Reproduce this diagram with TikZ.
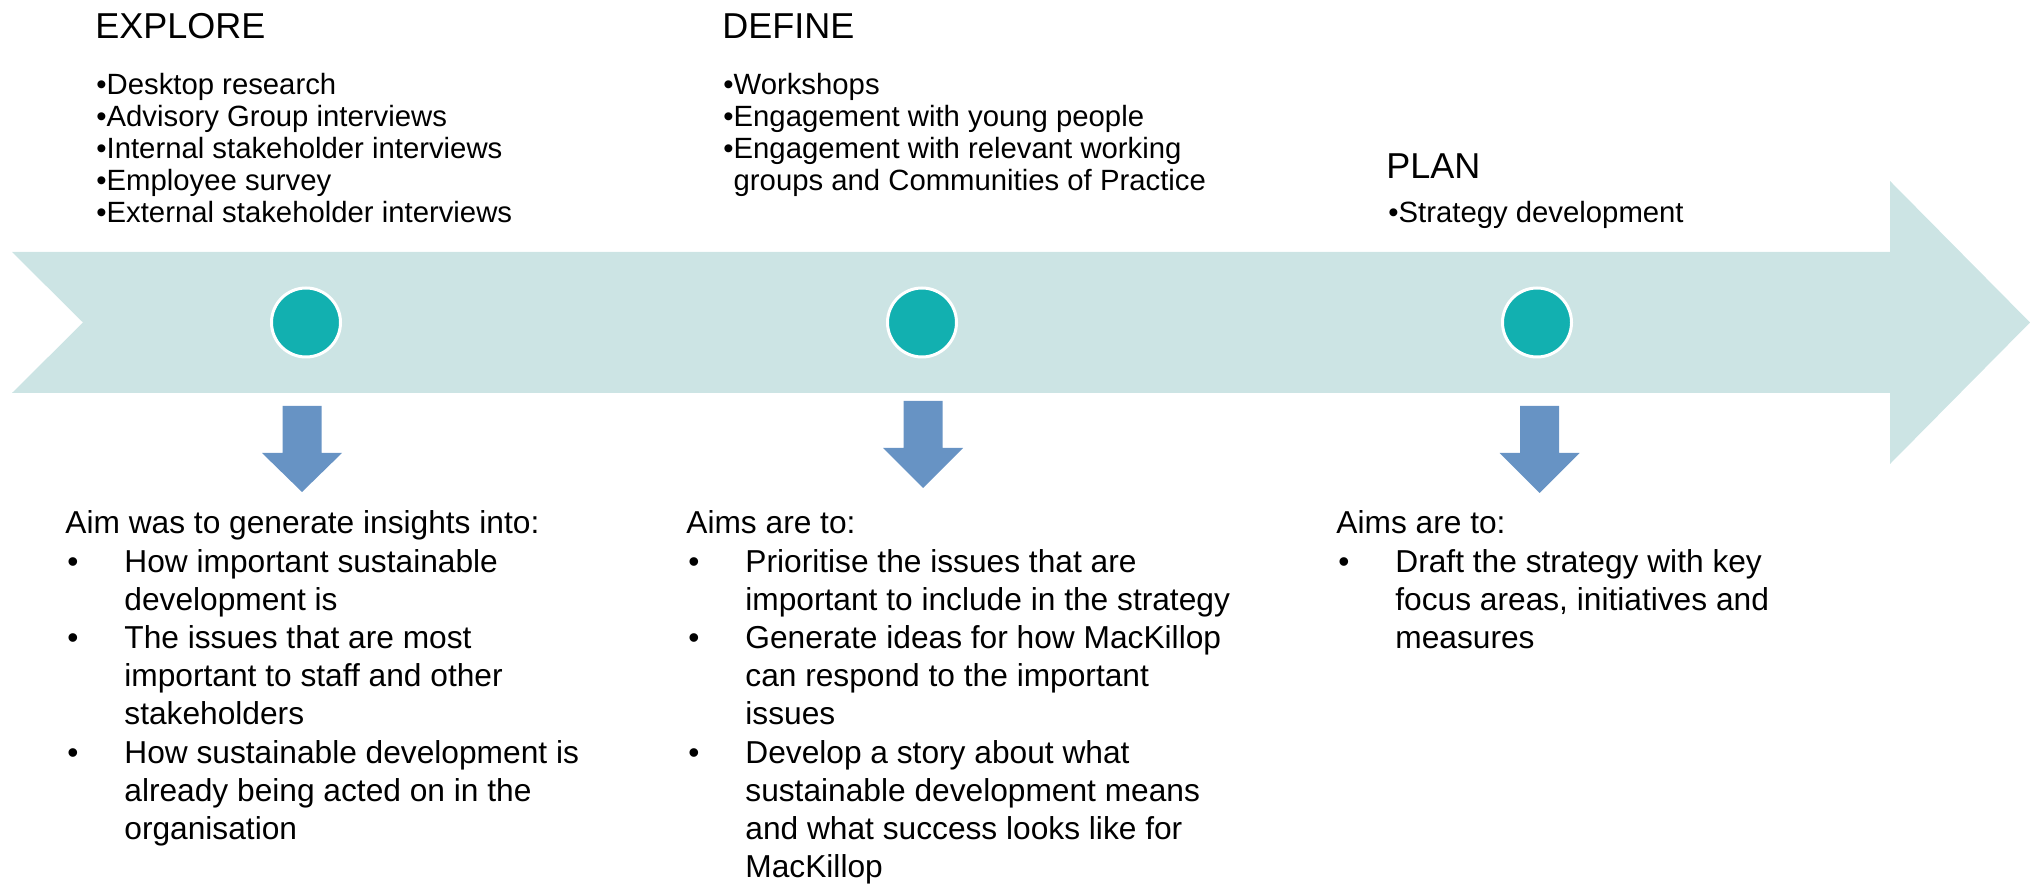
\documentclass[tikz,border=0pt]{standalone}
\usepackage{fontspec}
\setmainfont{Liberation Sans}
\usepackage{xcolor}
\usepackage{tikz}

\newcommand{\aimdot}{\makebox[29.5pt][l]{\hspace{1pt}\textbullet}}
\newcommand{\aimgap}{\hspace*{29.5pt}}

\begin{document}
\begin{tikzpicture}[x=0.5pt,y=0.5pt,yscale=-1,xscale=1,
  dotnode/.style={circle,inner sep=0pt,minimum size=34.5pt,line width=1.5pt,draw=white,fill={rgb, 255:red, 18; green, 176; blue, 176}},
  downarr/.style={fill={rgb, 255:red, 103; green, 147; blue, 196}},
  headfont/.style={font=\fontsize{18}{21.6}\selectfont},
  topfont/.style={font=\fontsize{14.65}{16}\selectfont},
  aimfont/.style={font=\fontsize{15.85}{19.1}\selectfont}]
\useasboundingbox (0,0) rectangle (2030,886);

%Shape: Right Arrow
\fill [color={rgb, 255:red, 204; green, 228; blue, 228}] (12,252) -- (1890,252) -- (1890,181) -- (2030,322.5) -- (1890,464) -- (1890,393) -- (12,393) -- (83,322.5) -- cycle;

%Shape: Circle
\draw (306,322.5) node (explorept) [dotnode] {};
%Shape: Circle
\draw (922,322.5) node (definept) [dotnode] {};
%Shape: Circle
\draw (1537,322.5) node (planpt) [dotnode] {};

%Shape: Down Arrow
\fill [downarr] (282.5,406) -- (321.5,406) -- (321.5,453) -- (342,453) -- (302,492) -- (262,453) -- (282.5,453) -- cycle;
%Shape: Down Arrow
\fill [downarr] (903.5,401) -- (942.5,401) -- (942.5,448) -- (963,448) -- (923,488) -- (883,448) -- (903.5,448) -- cycle;
%Shape: Down Arrow
\fill [downarr] (1520,406) -- (1559,406) -- (1559,453) -- (1579.5,453) -- (1539.5,493) -- (1499.5,453) -- (1520,453) -- cycle;

% Text Node (base = last line)
\draw (95,39) node (explore) [anchor=base west][inner sep=0pt] [headfont] [align=left] {EXPLORE};
% Text Node
\draw (722,39) node (define) [anchor=base west][inner sep=0pt] [headfont] [align=left] {DEFINE};
% Text Node
\draw (1386,179) node (plan) [anchor=base west][inner sep=0pt] [headfont] [align=left] {PLAN};
% Text Node
\draw (96,223) node (exploresteps) [anchor=base west][inner sep=0pt] [topfont] [align=left] {\textbullet Desktop research\\\textbullet Advisory Group interviews\\\textbullet Internal stakeholder interviews\\\textbullet Employee survey\\\textbullet External stakeholder interviews};
% Text Node
\draw (723,191) node (definesteps) [anchor=base west][inner sep=0pt] [topfont] [align=left] {\textbullet Workshops\\\textbullet Engagement with young people\\\textbullet Engagement with relevant working\\\hphantom{\textbullet}groups and Communities of Practice};
% Text Node
\draw (1388,223) node (plansteps) [anchor=base west][inner sep=0pt] [topfont] [align=left] {\textbullet Strategy development};
% Text Node
\draw (65,839.6) node (exploreaims) [anchor=base west][inner sep=0pt] [aimfont] [align=left] {Aim was to generate insights into:\\\aimdot How important sustainable\\\aimgap development is\\\aimdot The issues that are most\\\aimgap important to staff and other\\\aimgap stakeholders\\\aimdot How sustainable development is\\\aimgap already being acted on in the\\\aimgap organisation};
% Text Node
\draw (686,877.8) node (defineaims) [anchor=base west][inner sep=0pt] [aimfont] [align=left] {Aims are to:\\\aimdot Prioritise the issues that are\\\aimgap important to include in the strategy\\\aimdot Generate ideas for how MacKillop\\\aimgap can respond to the important\\\aimgap issues\\\aimdot Develop a story about what\\\aimgap sustainable development means\\\aimgap and what success looks like for\\\aimgap MacKillop};
% Text Node
\draw (1336,648.6) node (planaims) [anchor=base west][inner sep=0pt] [aimfont] [align=left] {Aims are to:\\\aimdot Draft the strategy with key\\\aimgap focus areas, initiatives and\\\aimgap measures};
\end{tikzpicture}
\end{document}
